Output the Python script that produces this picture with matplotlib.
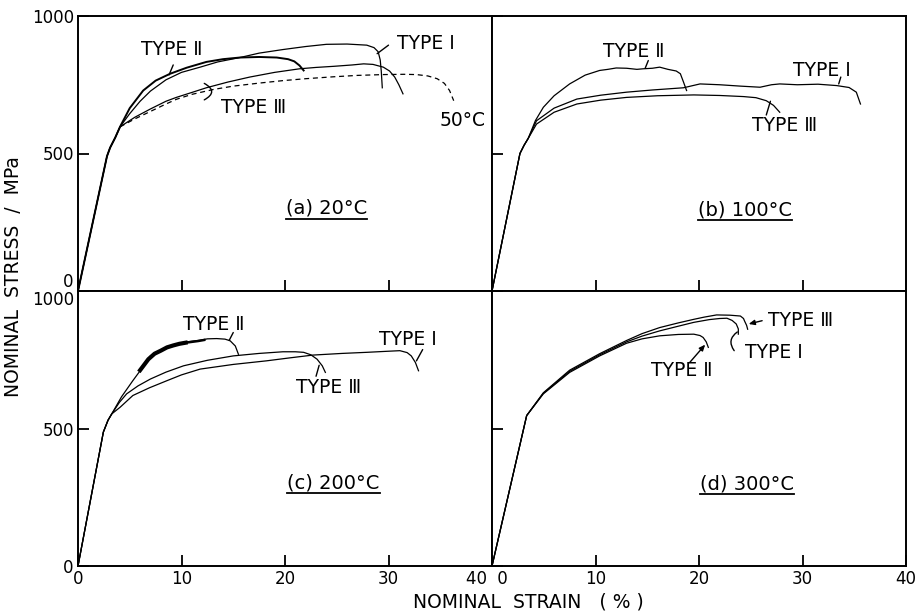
import matplotlib
matplotlib.use("Agg")
import matplotlib.pyplot as plt
from matplotlib.lines import Line2D

plt.rcParams['font.family'] = ['DejaVu Sans']

# ---------------- data (strain %, stress MPa) ----------------
# (a) 20 C
a_t2_x = [0, 2.8, 3.1, 3.6, 4.06, 5.0, 6.3, 7.5, 8.9, 10.5, 12.4, 14.0, 15.65, 17.5, 19.2, 20.3, 20.9, 21.4, 21.8]
a_t2_y = [0, 490, 521, 558, 597, 665, 729, 765, 790, 812, 833, 843, 849, 851, 849, 843, 835, 820, 802]
a_t1_x = [0, 2.8, 3.1, 3.6, 4.06, 5.0, 6.0, 7.0, 8.5, 10.0, 11.8, 13.5, 15.65, 17.5, 19.8, 22.0, 24.0, 26.0, 27.9, 28.6, 29.0, 29.2, 29.3, 29.4]
a_t1_y = [0, 490, 521, 558, 597, 645, 690, 727, 768, 795, 814, 833, 849, 865, 878, 889, 897, 898, 894, 885, 870, 840, 800, 739]
a_t3_x = [0, 2.8, 3.1, 3.6, 4.06, 5.5, 7.0, 8.5, 9.5, 11.0, 12.4, 14.5, 16.6, 19.0, 21.4, 23.0, 24.7, 26.5, 27.6, 28.5, 29.5, 30.1, 30.6, 31.0, 31.4]
a_t3_y = [0, 490, 521, 558, 597, 632, 662, 690, 704, 722, 739, 760, 778, 795, 808, 813, 817, 822, 826, 824, 814, 800, 778, 750, 717]
a_50_x = [4.06, 5.5, 7.0, 8.5, 9.5, 11.0, 13.1, 15.0, 17.5, 19.8, 22.0, 24.7, 27.0, 29.5, 31.5, 32.7, 33.8, 34.7, 35.4, 35.9, 36.3]
a_50_y = [597, 626, 653, 680, 697, 715, 733, 745, 756, 765, 772, 779, 784, 787, 788, 787, 782, 772, 755, 729, 692]

# (b) 100 C
b_t2_x = [0, 2.7, 3.1, 3.5, 4.2, 4.96, 6.0, 7.5, 9.0, 10.4, 11.2, 12.0, 13.0, 14.0, 14.6, 15.5, 16.2, 17.0, 17.8, 18.2, 18.5, 18.8]
b_t2_y = [0, 500, 530, 555, 620, 668, 710, 753, 785, 802, 806, 811, 810, 806, 808, 810, 814, 806, 800, 790, 760, 729]
b_t1_x = [0, 2.7, 3.1, 3.5, 4.3, 6.0, 8.2, 10.5, 13.0, 15.5, 18.5, 20.1, 22.0, 24.0, 25.9, 27.0, 27.8, 29.5, 31.5, 33.3, 34.5, 35.2, 35.6]
b_t1_y = [0, 500, 530, 555, 619, 665, 698, 712, 723, 731, 739, 753, 750, 745, 741, 750, 753, 750, 752, 747, 740, 723, 680]
b_t3_x = [0, 2.7, 3.1, 3.5, 4.3, 6.0, 8.2, 10.5, 13.0, 16.0, 19.5, 22.0, 24.3, 25.5, 26.5, 27.2, 27.8]
b_t3_y = [0, 500, 530, 555, 607, 650, 680, 694, 704, 710, 713, 711, 707, 703, 692, 675, 650]

# (c) 200 C
c_t2_x = [0, 2.45, 2.9, 3.26, 4.2, 5.3, 6.2, 7.0, 8.0, 9.5, 10.5, 11.8, 12.5, 13.4, 14.2, 14.7, 15.2, 15.5]
c_t2_y = [0, 487, 530, 553, 615, 674, 720, 764, 785, 807, 815, 821, 826, 827, 825, 819, 800, 770]
c_t3_x = [0, 2.45, 2.9, 3.26, 4.0, 4.7, 5.8, 7.0, 8.5, 10.2, 12.5, 15.0, 17.5, 19.8, 21.0, 21.8, 22.5, 23.1, 23.6, 23.9]
c_t3_y = [0, 487, 530, 553, 595, 626, 655, 680, 705, 728, 748, 764, 773, 779, 779, 777, 768, 752, 728, 704]
c_t1_x = [0, 2.45, 2.9, 3.26, 4.06, 5.3, 6.9, 8.6, 10.0, 11.8, 15.0, 18.2, 20.5, 22.7, 25.5, 27.9, 30.0, 31.1, 31.8, 32.2, 32.6, 32.9]
c_t1_y = [0, 487, 530, 553, 577, 620, 648, 674, 695, 716, 733, 746, 757, 767, 773, 777, 781, 783, 776, 764, 740, 710]
c_serr_x = [6.0, 6.8, 7.4, 8.0, 8.6, 9.2, 9.8, 10.4]
c_serr_y = [712, 752, 772, 783, 795, 802, 808, 812]
c_serr2_x = [10.4, 11.0, 11.6, 12.2]
c_serr2_y = [812, 815, 818, 822]

# (d) 300 C
d_t2_x = [0, 3.35, 4.96, 7.5, 10.4, 13.0, 14.5, 16.2, 18.0, 19.5, 20.1, 20.4, 20.7, 20.9]
d_t2_y = [0, 547, 626, 704, 764, 810, 826, 837, 842, 843, 838, 831, 815, 795]
d_t1_x = [0, 3.35, 4.96, 7.5, 10.4, 13.0, 14.5, 16.2, 18.0, 19.5, 21.0, 22.0, 22.7, 23.2, 23.6, 23.8, 23.8]
d_t1_y = [0, 547, 628, 708, 768, 815, 836, 855, 872, 886, 896, 900, 901, 893, 880, 862, 843]
d_t3_x = [0, 3.35, 4.96, 7.5, 10.4, 13.0, 14.5, 16.2, 18.0, 19.5, 20.5, 21.7, 23.0, 24.0, 24.3, 24.4, 24.6, 24.7]
d_t3_y = [0, 547, 630, 712, 772, 820, 845, 867, 884, 897, 905, 913, 912, 909, 900, 891, 875, 861]

x_ticks = [0, 10, 20, 30, 40]
y_ticks = [0, 500, 1000]
panel_titles = ['(a) 20°C', '(b) 100°C', '(c) 200°C', '(d) 300°C']

# ---------------- figure ----------------
fig = plt.figure(figsize=(9.18, 6.16), dpi=100)
gs = fig.add_gridspec(2, 2, left=78/918, right=906/918, top=1-16/616, bottom=1-566/616,
                      wspace=0, hspace=0)
axes = [[fig.add_subplot(gs[r, c]) for c in range(2)] for r in range(2)]
LW = 0.9
K = 'black'
FS = 12
LFS = 13.5

for r in range(2):
    for c in range(2):
        ax = axes[r][c]
        ax.set_xlim(0, 40)
        ax.set_ylim(0, 1000)
        for s in ax.spines.values():
            s.set_linewidth(1.4)
        ax.set_xticks(x_ticks)
        ax.set_yticks(y_ticks)
        ax.tick_params(direction='in', length=8, width=1.3, labelsize=FS, pad=3)
        if r == 0:
            ax.set_xticklabels([])
        if c == 1:
            ax.set_yticklabels([])

axA, axB = axes[0]
axC, axD = axes[1]

# tick label adjustments at shared borders
axA.get_yticklabels()[0].set_va('bottom')
axC.get_yticklabels()[2].set_va('top')
axC.set_xticklabels(['0', '10', '20', '30', '40 '])
axC.get_xticklabels()[4].set_ha('right')
axD.set_xticklabels([' 0', '10', '20', '30', '40'])
axD.get_xticklabels()[0].set_ha('left')

# ---- (a)
axA.plot(a_t2_x, a_t2_y, color=K, lw=1.4)
axA.plot(a_t1_x, a_t1_y, color=K, lw=LW)
axA.plot(a_t3_x, a_t3_y, color=K, lw=LW)
axA.plot(a_50_x, a_50_y, color=K, lw=LW, ls=(0, (4, 3)))

# ---- (b)
axB.plot(b_t2_x, b_t2_y, color=K, lw=LW)
axB.plot(b_t1_x, b_t1_y, color=K, lw=LW)
axB.plot(b_t3_x, b_t3_y, color=K, lw=LW)

# ---- (c)
axC.plot(c_t2_x, c_t2_y, color=K, lw=LW)
axC.plot(c_serr_x, c_serr_y, color=K, lw=3.0)
axC.plot(c_serr2_x, c_serr2_y, color=K, lw=1.8)
axC.plot(c_t3_x, c_t3_y, color=K, lw=LW)
axC.plot(c_t1_x, c_t1_y, color=K, lw=LW)

# ---- (d)
axD.plot(d_t2_x, d_t2_y, color=K, lw=LW)
axD.plot(d_t1_x, d_t1_y, color=K, lw=LW)
axD.plot(d_t3_x, d_t3_y, color=K, lw=LW)

def lab(ax, txt, x, y, **kw):
    ax.text(x, y, txt, fontsize=LFS, ha='center', va='center', **kw)

def lead(ax, p0, p1, style='-', rad=0.0):
    ax.annotate('', xy=p1, xytext=p0,
                arrowprops=dict(arrowstyle=style, lw=1.0, color=K,
                                shrinkA=0, shrinkB=0,
                                connectionstyle=f'arc3,rad={rad}'))

# labels (a)
lab(axA, 'TYPE Ⅱ', 9.1, 878)
lead(axA, (9.2, 822), (8.8, 786))
lab(axA, 'TYPE Ⅰ', 33.6, 900)
lead(axA, (30.0, 894), (28.9, 863))
lab(axA, 'TYPE Ⅲ', 17.0, 668)
lead(axA, (12.2, 755), (12.2, 695), rad=-0.9)
lab(axA, '50°C', 37.2, 619)

# labels (b)
lab(axB, 'TYPE Ⅱ', 13.7, 872)
lead(axB, (15.1, 838), (14.8, 810))
lab(axB, 'TYPE Ⅰ', 31.9, 802)
lead(axB, (33.7, 778), (33.5, 753))
lab(axB, 'TYPE Ⅲ', 28.3, 601)
lead(axB, (26.9, 690), (26.5, 640))

# labels (c)
lab(axC, 'TYPE Ⅱ', 13.1, 879)
lead(axC, (15.0, 849), (14.6, 820))
lab(axC, 'TYPE Ⅰ', 31.9, 825)
lead(axC, (33.3, 787), (32.7, 746))
lab(axC, 'TYPE Ⅲ', 24.2, 650)
lead(axC, (23.0, 690), (23.3, 730))

# labels (d)
lab(axD, 'TYPE Ⅲ', 29.8, 892)
lead(axD, (26.1, 892), (24.8, 880), style='-|>,head_length=0.35,head_width=0.15')
lab(axD, 'TYPE Ⅰ', 27.2, 777)
lead(axD, (23.7, 851), (23.4, 783), rad=0.5)
lab(axD, 'TYPE Ⅱ', 18.3, 710)
lead(axD, (19.1, 740), (20.6, 805), style='-|>,head_length=0.35,head_width=0.15')

# panel titles with underline
title_pos = [(24.0, 301), (24.4, 296), (24.7, 302), (24.6, 300)]
title_axes = [axA, axB, axC, axD]
title_texts = []
for ax, t, (x, y) in zip(title_axes, panel_titles, title_pos):
    title_texts.append(ax.text(x, y, t, fontsize=14, ha='center', va='center'))

# axis labels
fig.text(14/918, 1-277/616, 'NOMINAL  STRESS  /  MPa', rotation=90, fontsize=LFS,
         ha='center', va='center')
fig.text(528/918, 1-602/616, 'NOMINAL  STRAIN   ( % )', fontsize=LFS, ha='center', va='center')

fig.canvas.draw()
rend = fig.canvas.get_renderer()
for t in title_texts:
    bb = t.get_window_extent(rend)
    yline = bb.y0 - 1
    fig.add_artist(Line2D([bb.x0 / fig.bbox.width, bb.x1 / fig.bbox.width],
                          [yline / fig.bbox.height, yline / fig.bbox.height],
                          color=K, lw=1.3, transform=fig.transFigure))

fig.savefig('out.png', dpi=100)
